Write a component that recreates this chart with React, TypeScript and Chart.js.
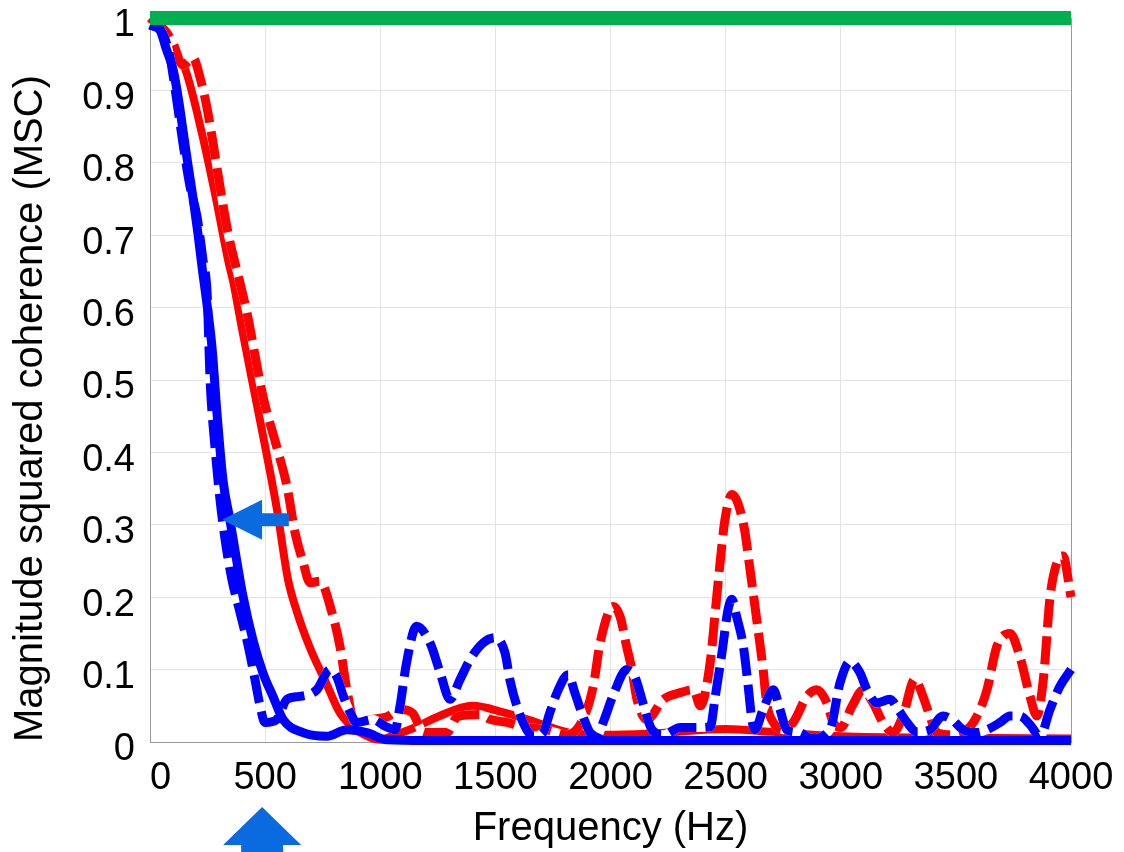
import React, { useEffect, useRef } from 'react';
import { Chart, registerables } from 'chart.js';

Chart.register(...registerables);

// ---------- data ----------
const xTicks = [0, 500, 1000, 1500, 2000, 2500, 3000, 3500, 4000];
const xTickLabels = ['\u20070', '500', '1000', '1500', '2000', '2500', '3000', '3500', '4000'];
const yTicks = [0, 0.1, 0.2, 0.3, 0.4, 0.5, 0.6, 0.7, 0.8, 0.9, 1];
const yTickLabels = ['0', '0.1', '0.2', '0.3', '0.4', '0.5', '0.6', '0.7', '0.8', '0.9', '1'];

const greenHz = [0, 4000];
const greenMsc = [1, 1];

const redSolidHz = [0, 70, 100, 130, 152, 226, 287, 343, 360, 400, 443, 499, 552, 599, 638, 695, 760, 825, 882, 950, 1000, 1050, 1150, 1250, 1400, 1535, 1680, 1820, 2000, 2200, 2500, 2700, 3000, 3500, 4000];
const redSolidMsc = [1.0, 0.98, 0.965, 0.94, 0.93, 0.84, 0.75, 0.66, 0.638, 0.57, 0.5, 0.41, 0.32, 0.225, 0.18, 0.13, 0.085, 0.04, 0.02, 0.007, 0.003, 0.008, 0.02, 0.035, 0.05, 0.041, 0.027, 0.013, 0.01, 0.012, 0.018, 0.014, 0.008, 0.006, 0.005];

const redDashedHz = [0, 65, 100, 143, 187, 217, 247, 274, 304, 339, 391, 421, 491, 550, 595, 630, 665, 695, 738, 790, 825, 855, 890, 960, 1030, 1090, 1140, 1190, 1290, 1335, 1430, 1480, 1550, 1620, 1720, 1810, 1880, 1925, 1955, 2012, 2042, 2070, 2093, 2115, 2158, 2230, 2300, 2360, 2390, 2433, 2455, 2476, 2497, 2527, 2580, 2606, 2635, 2663, 2678, 2707, 2750, 2793, 2853, 2896, 2940, 2967, 3000, 3050, 3097, 3140, 3183, 3227, 3270, 3322, 3357, 3387, 3417, 3480, 3548, 3592, 3635, 3678, 3735, 3778, 3822, 3852, 3880, 3909, 3939, 3965, 4000];
const redDashedMsc = [1.0, 0.983, 0.965, 0.935, 0.945, 0.918, 0.877, 0.827, 0.767, 0.703, 0.634, 0.593, 0.477, 0.408, 0.353, 0.289, 0.248, 0.22, 0.222, 0.179, 0.132, 0.072, 0.027, 0.031, 0.035, 0.045, 0.04, 0.013, 0.013, 0.035, 0.038, 0.031, 0.027, 0.021, 0.017, 0.01, 0.031, 0.077, 0.137, 0.187, 0.173, 0.132, 0.1, 0.059, 0.031, 0.059, 0.068, 0.072, 0.05, 0.11, 0.18, 0.248, 0.307, 0.342, 0.297, 0.238, 0.169, 0.1, 0.054, 0.027, 0.017, 0.027, 0.063, 0.072, 0.054, 0.027, 0.02, 0.05, 0.072, 0.054, 0.027, 0.013, 0.036, 0.087, 0.063, 0.036, 0.013, 0.01, 0.017, 0.036, 0.072, 0.132, 0.15, 0.118, 0.063, 0.036, 0.087, 0.2, 0.248, 0.257, 0.2];

const blueSolidHz = [0, 43, 72, 101, 124, 145, 166, 188, 208, 226, 239, 269, 291, 317, 347, 378, 404, 447, 491, 534, 578, 665, 768, 855, 942, 1029, 1200, 2000, 3000, 4000];
const blueSolidMsc = [0.99, 0.983, 0.956, 0.928, 0.887, 0.841, 0.795, 0.749, 0.703, 0.656, 0.625, 0.546, 0.454, 0.362, 0.307, 0.248, 0.201, 0.141, 0.095, 0.063, 0.031, 0.013, 0.008, 0.017, 0.013, 0.003, 0.002, 0.002, 0.002, 0.002];

const blueDashedHz = [0, 43, 87, 101, 116, 145, 174, 204, 230, 248, 261, 282, 304, 326, 356, 391, 427, 456, 478, 499, 550, 595, 651, 724, 782, 811, 840, 869, 897, 970, 1020, 1064, 1086, 1114, 1158, 1216, 1260, 1303, 1346, 1390, 1447, 1499, 1542, 1563, 1593, 1636, 1665, 1707, 1737, 1773, 1816, 1845, 1881, 1911, 1940, 1968, 2012, 2071, 2106, 2141, 2180, 2230, 2303, 2375, 2433, 2455, 2484, 2510, 2527, 2548, 2577, 2598, 2614, 2627, 2663, 2707, 2736, 2765, 2822, 2870, 2953, 2997, 3040, 3083, 3114, 3157, 3214, 3249, 3288, 3331, 3387, 3444, 3483, 3531, 3592, 3635, 3692, 3735, 3778, 3822, 3865, 3909, 3952, 4000];
const blueDashedMsc = [0.99, 0.985, 0.946, 0.919, 0.887, 0.823, 0.767, 0.726, 0.666, 0.62, 0.5, 0.408, 0.335, 0.28, 0.224, 0.179, 0.132, 0.086, 0.05, 0.027, 0.031, 0.059, 0.063, 0.072, 0.1, 0.09, 0.063, 0.041, 0.027, 0.031, 0.022, 0.017, 0.05, 0.109, 0.16, 0.137, 0.096, 0.059, 0.086, 0.114, 0.137, 0.144, 0.123, 0.086, 0.05, 0.017, 0.008, 0.013, 0.041, 0.072, 0.093, 0.068, 0.035, 0.013, 0.008, 0.027, 0.065, 0.1, 0.09, 0.054, 0.017, 0.01, 0.02, 0.02, 0.021, 0.063, 0.123, 0.182, 0.197, 0.173, 0.132, 0.077, 0.031, 0.017, 0.045, 0.072, 0.045, 0.017, 0.013, 0.005, 0.017, 0.082, 0.111, 0.096, 0.072, 0.054, 0.059, 0.045, 0.027, 0.014, 0.017, 0.036, 0.031, 0.017, 0.013, 0.017, 0.027, 0.036, 0.036, 0.024, 0.008, 0.045, 0.077, 0.1];

// annotation arrows (data coordinates)
const arrowLeftTipHz = 313;
const arrowLeftTailHz = 603;
const arrowLeftMsc = 0.307;
const arrowUpHz = 487;

// ---------- styling ----------
const FONT = '"Liberation Sans", Arial, Helvetica, sans-serif';
const RED = '#ff0000';
const BLUE = '#0000ff';
const GREEN = '#00b050';
const ARROW = '#0a6be0';
const GRID = '#e3e3e3';
const AXIS = '#9a9a9a';
const DASH = [28, 9];

const pts = (hz: number[], msc: number[]) => hz.map((x, i) => ({ x, y: msc[i] }));

const arrowPlugin = {
  id: 'arrows',
  afterDraw(chart: any) {
    const { ctx, chartArea } = chart;
    const x = chart.scales.x;
    const y = chart.scales.y;
    ctx.save();
    ctx.fillStyle = ARROW;
    // left-pointing arrow
    const tx = x.getPixelForValue(arrowLeftTipHz);
    const ty = y.getPixelForValue(arrowLeftMsc);
    const ex = x.getPixelForValue(arrowLeftTailHz);
    const headLen = 40, headHalf = 20, shaftHalf = 6.5;
    ctx.beginPath();
    ctx.moveTo(tx, ty);
    ctx.lineTo(tx + headLen, ty - headHalf);
    ctx.lineTo(tx + headLen, ty - shaftHalf);
    ctx.lineTo(ex, ty - shaftHalf);
    ctx.lineTo(ex, ty + shaftHalf);
    ctx.lineTo(tx + headLen, ty + shaftHalf);
    ctx.lineTo(tx + headLen, ty + headHalf);
    ctx.closePath();
    ctx.fill();
    // up-pointing arrow below the axis
    const ux = x.getPixelForValue(arrowUpHz);
    const tipY = chartArea.bottom + 65;
    const baseY = tipY + 38;
    const bottom = chart.height + 2;
    const uHead = 39, uShaft = 21;
    ctx.beginPath();
    ctx.moveTo(ux, tipY);
    ctx.lineTo(ux + uHead, baseY);
    ctx.lineTo(ux + uShaft, baseY);
    ctx.lineTo(ux + uShaft, bottom);
    ctx.lineTo(ux - uShaft, bottom);
    ctx.lineTo(ux - uShaft, baseY);
    ctx.lineTo(ux - uHead, baseY);
    ctx.closePath();
    ctx.fill();
    ctx.restore();
  },
};

const lineDs = (data: any[], color: string, width: number, dash: number[] = []) => ({
  data,
  borderColor: color,
  borderWidth: width,
  borderDash: dash,
  borderCapStyle: 'butt',
  borderJoinStyle: 'round',
  pointRadius: 0,
  fill: false,
  clip: 8,
  cubicInterpolationMode: 'monotone',
});

export default function App() {
  const ref = useRef<HTMLCanvasElement | null>(null);

  useEffect(() => {
    document.body.style.margin = '0';
    if (!ref.current) return;
    const red = pts(redSolidHz, redSolidMsc);
    const redD = pts(redDashedHz, redDashedMsc);
    const blue = pts(blueSolidHz, blueSolidMsc);
    const blueD = pts(blueDashedHz, blueDashedMsc);
    const green = pts(greenHz, greenMsc);

    const chart = new Chart(ref.current, {
      type: 'line',
      data: {
        datasets: [
          lineDs(green, GREEN, 14),
          lineDs(blue, BLUE, 9),
          lineDs(blueD, BLUE, 9, DASH),
          lineDs(blueD, '#ffffff', 9),
          lineDs(redD, RED, 9, DASH),
          lineDs(redD, '#ffffff', 9),
          lineDs(red, RED, 8),
        ] as any,
      },
      options: {
        responsive: false,
        animation: false,
        devicePixelRatio: 1,
        events: [],
        layout: { padding: { top: 18, right: 53, left: 0, bottom: 0 } },
        plugins: { legend: { display: false }, tooltip: { enabled: false } },
        scales: {
          x: {
            type: 'linear',
            min: 0,
            max: 4000,
            afterBuildTicks: (s: any) => {
              s.ticks = xTicks.map((v) => ({ value: v }));
            },
            afterFit: (s: any) => {
              s.height = 110;
              s.paddingLeft = 0;
              s.paddingRight = 0;
            },
            grid: {
              color: (c: any) => (c.tick && c.tick.value === 4000 ? AXIS : GRID),
              drawTicks: false,
              lineWidth: 1,
            },
            border: { color: AXIS, width: 1 },
            ticks: {
              font: { family: FONT, size: 38, lineHeight: 1 },
              color: '#000',
              padding: 18,
              maxRotation: 0,
              autoSkip: false,
              callback: (_v: any, i: number) => xTickLabels[i],
            },
            title: {
              display: true,
              text: 'Frequency (Hz)',
              color: '#000',
              font: { family: FONT, size: 40, lineHeight: 1 },
              padding: { top: 0, bottom: 3 },
            },
          },
          y: {
            type: 'linear',
            min: 0,
            max: 1,
            afterBuildTicks: (s: any) => {
              s.ticks = yTicks.map((v) => ({ value: v }));
            },
            afterFit: (s: any) => {
              s.width = 150;
              s.paddingTop = 0;
              s.paddingBottom = 0;
            },
            grid: { color: GRID, drawTicks: false, lineWidth: 1 },
            border: { color: AXIS, width: 1 },
            ticks: {
              font: { family: FONT, size: 38, lineHeight: 1 },
              color: '#000',
              padding: 15,
              labelOffset: 8,
              autoSkip: false,
              callback: (_v: any, i: number) => yTickLabels[i],
            },
            title: {
              display: true,
              text: 'Magnitude squared coherence (MSC)',
              align: 'start',
              color: '#000',
              font: { family: FONT, size: 40, lineHeight: 1 },
              padding: { top: 11, bottom: 0 },
            },
          },
        },
      } as any,
      plugins: [arrowPlugin],
    });
    return () => chart.destroy();
  }, []);

  return <canvas ref={ref} width={1124} height={852} style={{ display: 'block' }} />;
}
